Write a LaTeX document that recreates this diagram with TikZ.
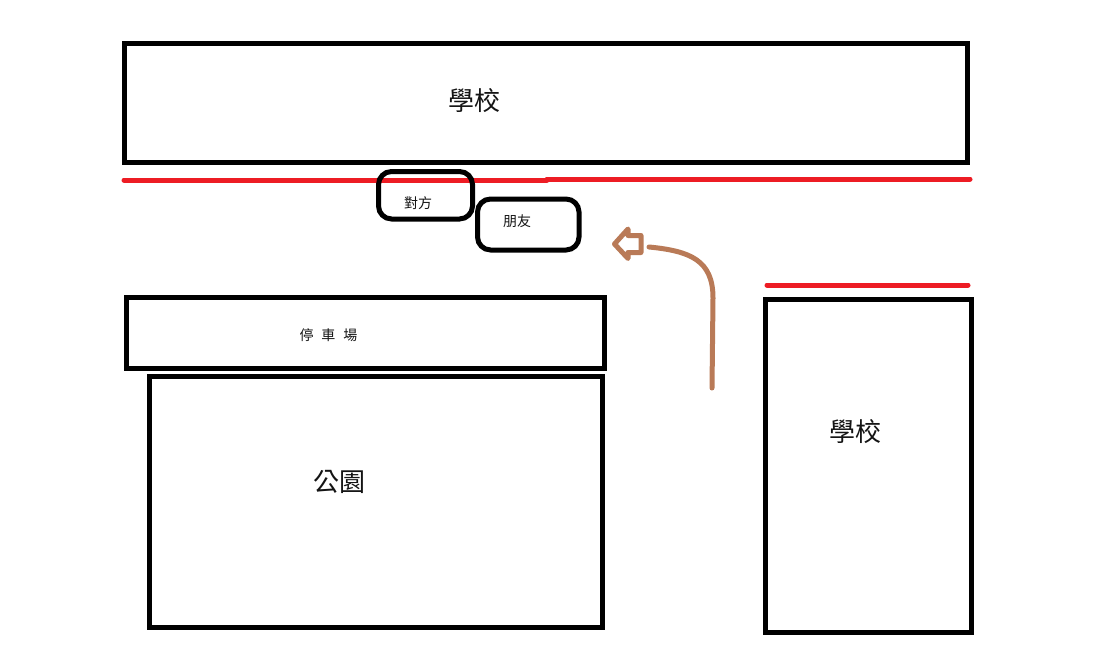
\documentclass[tikz,border=0pt]{standalone}
\usepackage{fontspec}
\newfontfamily\cjk{Noto Sans CJK TC}
\definecolor{pred}{HTML}{ED1C24}
\definecolor{pbrown}{HTML}{B97A57}
\tikzset{
  blk/.style={draw=black,line width=5pt,inner sep=0pt,outer sep=0pt,anchor=north west},
  rnd/.style={blk,rounded corners=13pt},
  redline/.style={draw=pred,line width=5pt,line cap=round},
  brown/.style={draw=pbrown,line width=5pt,line cap=round,line join=round},
  big/.style={font=\cjk\fontsize{26}{26}\selectfont,inner sep=0pt,text=black!92},
  small/.style={font=\cjk\fontsize{14}{14}\selectfont,inner sep=0pt,text=black!92}
}
\begin{document}
\begin{tikzpicture}[x=1pt,y=-1pt]
\useasboundingbox (0,0) rectangle (1095,650);
\fill[white] (0,0) rectangle (1095,650);
% red lines
\coordinate (ra) at (124,180);
\coordinate (rb) at (547,180);
\coordinate (rc) at (547,179);
\coordinate (rd) at (970,179);
\coordinate (re) at (767,285);
\coordinate (rf) at (968,285);
\draw[redline] (ra) -- (rb);
\draw[redline] (rc) -- (rd);
\draw[redline] (re) -- (rf);
% buildings
\node[blk,minimum width=843pt,minimum height=118.5pt] (school1) at (124,44) {};
\node[blk,minimum width=478pt,minimum height=71pt] (parking) at (126.5,297.5) {};
\node[blk,minimum width=453pt,minimum height=251pt] (park) at (149.5,376.5) {};
\node[blk,minimum width=205.5pt,minimum height=333pt] (school2) at (765.5,299.5) {};
\node[rnd,minimum width=94pt,minimum height=47.5pt] (duifang) at (378.5,171.5) {};
\node[rnd,minimum width=101.5pt,minimum height=51pt] (friend) at (477.5,199) {};
% labels
\node[big] (t1) at (474,100.5) {學校};
\node[big] (t2) at (855,432) {學校};
\node[big] (t3) at (339,482) {公園};
\node[small] (t4) at (328.5,335) {停\hspace{8pt}車\hspace{8pt}場};
\node[small] (t5) at (418,203) {對方};
\node[small] (t6) at (517,221) {朋友};
% arrow
\coordinate (a1) at (614.5,244);
\coordinate (a2) at (628,229);
\coordinate (a3) at (628,235.5);
\coordinate (a4) at (641,235.5);
\coordinate (a5) at (641,252.5);
\coordinate (a6) at (628,252.5);
\coordinate (a7) at (628,258.5);
\draw[brown] (a1) -- (a2) -- (a3) -- (a4) -- (a5) -- (a6) -- (a7) -- cycle;
\coordinate (c1) at (649,247);
\coordinate (c2) at (713,298);
\coordinate (c3) at (712,388);
\draw[brown] (c1) .. controls (690,251) and (713,260) .. (c2) -- (c3);
\end{tikzpicture}
\end{document}
